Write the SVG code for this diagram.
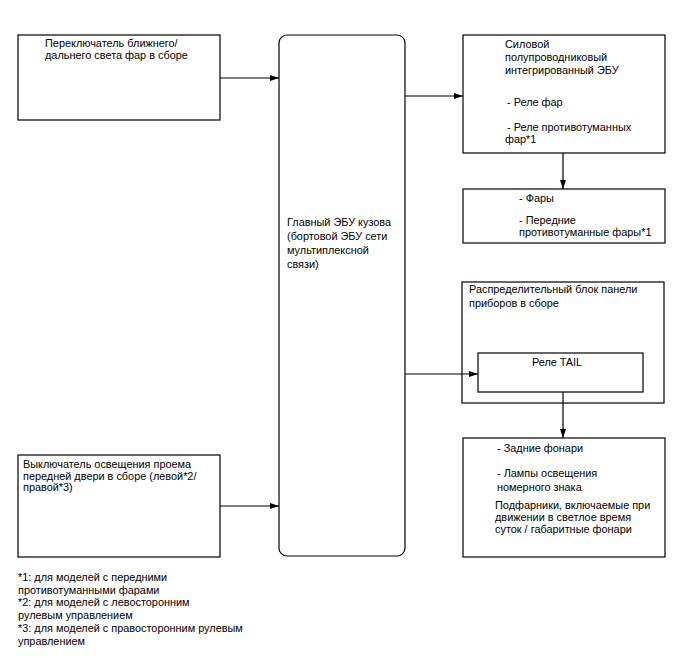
<svg xmlns="http://www.w3.org/2000/svg" width="688" height="658" viewBox="0 0 688 658">
<defs>
<marker id="ah" markerWidth="10" markerHeight="8" refX="9" refY="4" orient="auto" markerUnits="userSpaceOnUse">
<path d="M0,1 L9,4 L0,7 Z" fill="#000"/>
</marker>
<style>
.box{fill:#fff;stroke:#000;stroke-width:1.2}
.t{font-family:"Liberation Sans",Arial,sans-serif;font-size:10.9px;fill:#000}
.c{fill:none;stroke:#000;stroke-width:1.2}
</style>
</defs>
<rect width="688" height="658" fill="#fff"/>
<g id="n-switch">
<rect class="box" x="18" y="35" width="202" height="85"/>
<text class="t" x="45" y="47">Переключатель ближнего/</text>
<text class="t" x="45" y="59">дальнего света фар в сборе</text>
</g>
<g id="n-main">
<rect class="box" x="279" y="35" width="126" height="521" rx="8"/>
<text class="t" x="287" y="226">Главный ЭБУ кузова</text>
<text class="t" x="287" y="240">(бортовой ЭБУ сети</text>
<text class="t" x="287" y="254">мультиплексной</text>
<text class="t" x="287" y="268">связи)</text>
</g>
<g id="n-ipd">
<rect class="box" x="463" y="35" width="202" height="118"/>
<text class="t" x="505" y="48">Силовой</text>
<text class="t" x="505" y="61">полупроводниковый</text>
<text class="t" x="505" y="74">интегрированный ЭБУ</text>
<text class="t" x="507" y="106">- Реле фар</text>
<text class="t" x="507" y="131">- Реле противотуманных</text>
<text class="t" x="505" y="143">фар*1</text>
</g>
<g id="n-lamps">
<rect class="box" x="463" y="189" width="202" height="54"/>
<text class="t" x="519" y="202">- Фары</text>
<text class="t" x="519" y="224">- Передние</text>
<text class="t" x="519" y="236">противотуманные фары*1</text>
</g>
<g id="n-jb">
<rect class="box" x="462" y="282" width="202" height="121"/>
<text class="t" x="469" y="293">Распределительный блок панели</text>
<text class="t" x="469" y="307">приборов в сборе</text>
</g>
<g id="n-tail">
<rect class="box" x="478" y="353" width="165" height="39"/>
<text class="t" x="557" y="366" text-anchor="middle">Реле TAIL</text>
</g>
<g id="n-rear">
<rect class="box" x="463" y="438" width="202" height="119"/>
<text class="t" x="497" y="452">- Задние фонари</text>
<text class="t" x="497" y="477">- Лампы освещения</text>
<text class="t" x="497" y="491">номерного знака</text>
<text class="t" x="495" y="509">Подфарники, включаемые при</text>
<text class="t" x="495" y="521">движении в светлое время</text>
<text class="t" x="495" y="533">суток / габаритные фонари</text>
</g>
<g id="n-door">
<rect class="box" x="18" y="455" width="202" height="102"/>
<text class="t" x="23" y="468">Выключатель освещения проема</text>
<text class="t" x="23" y="480">передней двери в сборе (левой*2/</text>
<text class="t" x="23" y="491">правой*3)</text>
</g>
<g id="notes">
<text class="t" x="18" y="581">*1: для моделей с передними</text>
<text class="t" x="18" y="594">противотуманными фарами</text>
<text class="t" x="18" y="606">*2: для моделей с левосторонним</text>
<text class="t" x="18" y="619">рулевым управлением</text>
<text class="t" x="18" y="632">*3: для моделей с правосторонним рулевым</text>
<text class="t" x="18" y="645">управлением</text>
</g>
<g id="connectors">
<line class="c" x1="220" y1="78" x2="279" y2="78" marker-end="url(#ah)"/>
<line class="c" x1="405" y1="96" x2="463" y2="96" marker-end="url(#ah)"/>
<line class="c" x1="563" y1="153" x2="563" y2="189" marker-end="url(#ah)"/>
<line class="c" x1="405" y1="374" x2="478" y2="374" marker-end="url(#ah)"/>
<line class="c" x1="563" y1="392" x2="563" y2="438" marker-end="url(#ah)"/>
<line class="c" x1="220" y1="506" x2="279" y2="506" marker-end="url(#ah)"/>
</g>
</svg>
